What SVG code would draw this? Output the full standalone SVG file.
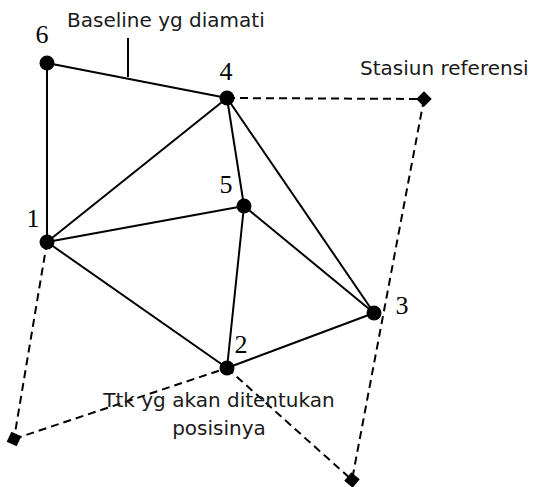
<svg xmlns="http://www.w3.org/2000/svg" width="537" height="487" viewBox="0 0 537 487">
<defs>
<style>
.e{stroke:#000;stroke-width:2;fill:none}
.d{stroke:#000;stroke-width:2;fill:none;stroke-dasharray:8 5}
.n{fill:#000}
.num{font-family:"Liberation Serif",serif;font-size:26px;fill:#000;text-anchor:middle}
.lbl{font-family:"DejaVu Sans",sans-serif;font-size:20px;fill:#1a1a1a}
</style>
</defs>
<rect width="537" height="487" fill="#fff"/>
<g id="connectors">
<line class="e" x1="47" y1="63" x2="227" y2="98"/>
<line class="e" x1="47" y1="63" x2="47" y2="242"/>
<line class="e" x1="47" y1="242" x2="227" y2="98"/>
<line class="e" x1="47" y1="242" x2="244" y2="206"/>
<line class="e" x1="47" y1="242" x2="227" y2="368"/>
<line class="e" x1="227" y1="98" x2="244" y2="206"/>
<line class="e" x1="227" y1="98" x2="374" y2="313"/>
<line class="e" x1="244" y1="206" x2="374" y2="313"/>
<line class="e" x1="244" y1="206" x2="227" y2="368"/>
<line class="e" x1="227" y1="368" x2="374" y2="313"/>
<line class="e" x1="128" y1="38" x2="128" y2="77"/>
<line class="d" x1="227" y1="98" x2="424" y2="99"/>
<line class="d" x1="424" y1="99" x2="352" y2="480"/>
<line class="d" x1="47" y1="242" x2="14" y2="439"/>
<line class="d" x1="14" y1="439" x2="227" y2="368"/>
<line class="d" x1="227" y1="368" x2="352" y2="480"/>
</g>
<g id="node6"><circle class="n" cx="47" cy="63" r="7.5"/><text class="num" x="42" y="43">6</text></g>
<g id="node4"><circle class="n" cx="227" cy="98" r="7.5"/><text class="num" x="226" y="80">4</text></g>
<g id="node5"><circle class="n" cx="244" cy="206" r="7.5"/><text class="num" x="226" y="193">5</text></g>
<g id="node1"><circle class="n" cx="47" cy="242" r="7.5"/><text class="num" x="33" y="227">1</text></g>
<g id="node2"><circle class="n" cx="227" cy="368" r="7.5"/><text class="num" x="241" y="353">2</text></g>
<g id="node3"><circle class="n" cx="374" cy="313" r="7.5"/><text class="num" x="402" y="314">3</text></g>
<g id="ref1"><rect class="n" x="-5.5" y="-5.5" width="11" height="11" transform="translate(424 99) rotate(45)"/></g>
<g id="ref2"><rect class="n" x="-5.5" y="-5.5" width="11" height="11" transform="translate(14 439) rotate(25)"/></g>
<g id="ref3"><rect class="n" x="-5.5" y="-5.5" width="11" height="11" transform="translate(352 480) rotate(40)"/></g>
<g id="labels">
<text class="lbl" x="67" y="27">Baseline yg diamati</text>
<text class="lbl" x="360" y="75">Stasiun referensi</text>
<text class="lbl" x="219" y="407" text-anchor="middle">Ttk yg akan ditentukan</text>
<text class="lbl" x="219" y="435" text-anchor="middle">posisinya</text>
</g>
</svg>
